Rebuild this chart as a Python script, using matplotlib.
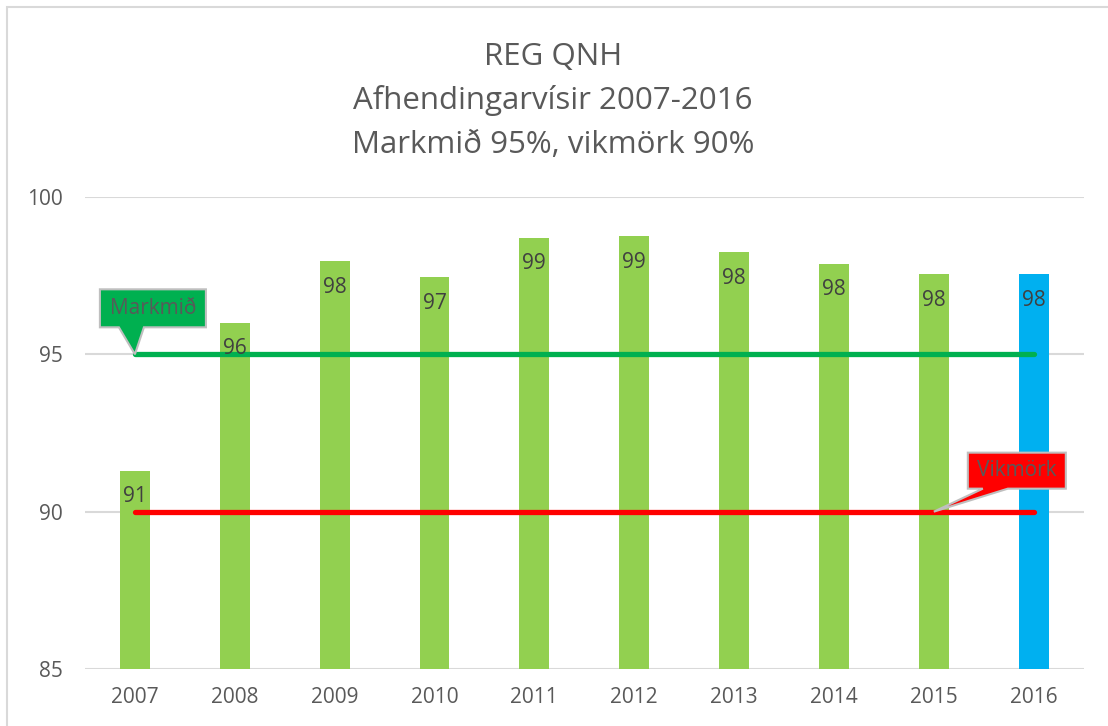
import matplotlib.pyplot as plt
from matplotlib.patches import Polygon, Rectangle
import matplotlib.transforms as mtransforms

plt.rcParams['font.family'] = ['Open Sans', 'DejaVu Sans']

# data
years = ['2007', '2008', '2009', '2010', '2011', '2012', '2013', '2014', '2015', '2016']
values = [91.3, 96.0, 97.95, 97.45, 98.7, 98.75, 98.25, 97.88, 97.55, 97.55]
labels = ['91', '96', '98', '97', '99', '99', '98', '98', '98', '98']
target = 95      # Markmið
tolerance = 90   # Vikmörk
title_lines = ['REG QNH', 'Afhendingarvísir 2007-2016', 'Markmið 95%, vikmörk 90%']

green_bar = '#92D050'
blue_bar = '#00B0F0'
text_col = '#595959'

fig = plt.figure(figsize=(11.08, 7.26), dpi=100)
ax = fig.add_axes([0.0767, 0.0785, 0.9013, 0.6502])

x = list(range(len(years)))
colors = [green_bar] * (len(years) - 1) + [blue_bar]
ax.bar(x, values, width=0.3, color=colors, zorder=2)

# target and tolerance lines
ax.plot([x[0], x[-1]], [target, target], color='#00B050', lw=3.8,
        solid_capstyle='round', zorder=3)
ax.plot([x[0], x[-1]], [tolerance, tolerance], color='#FF0000', lw=3.8,
        solid_capstyle='round', zorder=3)

# data labels inside the bar ends
for xi, v, lab in zip(x, values, labels):
    ax.annotate(lab, (xi, v), xytext=(0, -26), textcoords='offset pixels',
                ha='center', va='center', fontsize=15, color='#404040', zorder=5)

ax.set_xlim(-0.5, len(years) - 0.5)
ax.set_ylim(85, 100)
ax.set_yticks([85, 90, 95, 100])
ax.set_xticks(x)
ax.set_xticklabels(years)
ax.tick_params(length=0, labelsize=15, labelcolor=text_col)
ax.tick_params(axis='x', pad=13)
ax.tick_params(axis='y', pad=16)
ax.yaxis.grid(True, color='#D9D9D9', lw=1.5, zorder=0)
ax.set_axisbelow(True)
for s in ax.spines.values():
    s.set_visible(False)


def callout(xd, yd, box, tip, text, fill):
    # box = (x0, x1, y0, y1) and tip = (base_left, base_right), pixels relative to the data point
    tr = mtransforms.Affine2D().scale(1 / 100.0) + fig.dpi_scale_trans + \
        mtransforms.ScaledTranslation(xd, yd, ax.transData)
    x0, x1, y0, y1 = box
    verts = [(x0, y0), (tip[0], y0), (0, 0), (tip[1], y0), (x1, y0), (x1, y1), (x0, y1)]
    poly = Polygon(verts, closed=True, facecolor=fill, edgecolor='#BFBFBF',
                   lw=1.5, transform=tr, zorder=6)
    ax.add_patch(poly)
    ax.text((x0 + x1) / 2.0, (y0 + y1) / 2.0, text, transform=tr, ha='center',
            va='center', fontsize=15, color=text_col, zorder=7)


callout(0, target, (-35, 71, 27, 65), (-16, 9), 'Markmið', '#00B050')
callout(8, tolerance, (34, 132, 23, 59), (49, 74), 'Vikmörk', '#FF0000')

# title
baselines = [65, 109, 153]
for line, b in zip(title_lines, baselines):
    fig.text(0.499, 1 - b / 726.0, line, ha='center', va='baseline',
             fontsize=22.5, color=text_col)

# outer chart frame
fig.patches.append(Rectangle((7 / 1108.0, -0.1), 1.2, 1 - 7 / 726.0 + 0.1,
                             transform=fig.transFigure, fill=False,
                             edgecolor='#D9D9D9', lw=1.5))

fig.savefig('out.png', dpi=100)
